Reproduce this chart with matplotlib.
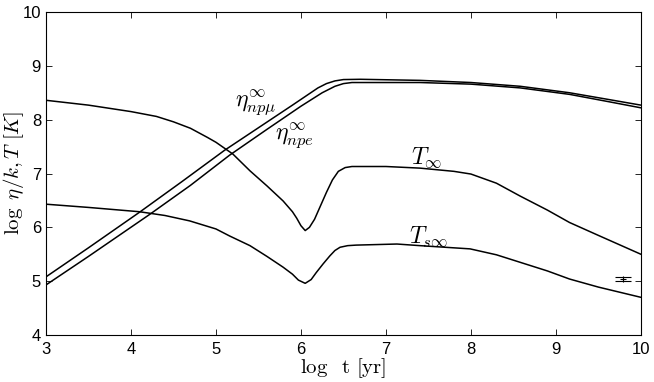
import numpy as np
import matplotlib.pyplot as plt

plt.rcParams['mathtext.fontset'] = 'cm'
plt.rcParams['font.family'] = ['Liberation Sans', 'DejaVu Sans']

# eta_npmu (upper of the pair)
t_mu = [3.0, 3.5, 4.1, 4.6, 5.1, 5.5, 5.9, 6.2, 6.3, 6.4, 6.5, 6.7, 7.4, 8.0, 8.58, 9.16, 9.6, 10.0]
eta_mu = [5.08, 5.62, 6.28, 6.85, 7.43, 7.85, 8.27, 8.59, 8.67, 8.72, 8.745, 8.75, 8.73, 8.69, 8.62, 8.50, 8.38, 8.27]

# eta_npe (lower of the pair)
t_e = [3.0, 3.5, 4.22, 4.7, 5.16, 5.6, 6.0, 6.25, 6.4, 6.5, 6.6, 7.4, 8.0, 8.58, 9.16, 9.6, 10.0]
eta_e = [4.93, 5.46, 6.24, 6.78, 7.34, 7.82, 8.25, 8.50, 8.62, 8.67, 8.69, 8.69, 8.66, 8.59, 8.47, 8.34, 8.22]

# T_inf
t_T = [3.0, 3.5, 4.0, 4.3, 4.5, 4.7, 4.9, 5.0, 5.2, 5.4, 5.6, 5.79, 5.9, 5.95, 6.0, 6.05,
       6.1, 6.16, 6.23, 6.3, 6.37, 6.44, 6.52, 6.6, 7.0, 7.4, 7.8, 8.0, 8.3, 8.58, 8.9,
       9.16, 9.5, 10.0]
T_inf = [8.36, 8.27, 8.15, 8.06, 7.96, 7.84, 7.67, 7.58, 7.36, 7.05, 6.77, 6.49, 6.29, 6.17,
         6.03, 5.94, 6.00, 6.15, 6.40, 6.65, 6.88, 7.04, 7.11, 7.13, 7.13, 7.10, 7.04, 6.99,
         6.82, 6.58, 6.32, 6.09, 5.85, 5.50]

# T_s_inf
t_Ts = [3.0, 3.5, 4.1, 4.4, 4.69, 5.0, 5.16, 5.28, 5.4, 5.6, 5.79, 5.9, 5.97, 6.05, 6.12,
        6.18, 6.26, 6.34, 6.4, 6.46, 6.55, 6.65, 7.13, 7.4, 7.99, 8.3, 8.58, 8.9, 9.16,
        9.5, 10.0]
Ts_inf = [6.43, 6.37, 6.29, 6.22, 6.12, 5.97, 5.84, 5.75, 5.66, 5.46, 5.26, 5.13, 5.02, 4.96,
          5.03, 5.16, 5.32, 5.47, 5.57, 5.63, 5.66, 5.67, 5.69, 5.66, 5.60, 5.49, 5.35, 5.19,
          5.04, 4.89, 4.70]

# observational point with error bar
obs_t, obs_T, obs_err = 9.79, 5.035, 0.04

fig = plt.figure(figsize=(6.54, 3.82), dpi=100)
ax = fig.add_axes([0.0703, 0.123, 0.9097, 0.8456])

for x, y in [(t_mu, eta_mu), (t_e, eta_e), (t_T, T_inf), (t_Ts, Ts_inf)]:
    ax.plot(x, y, color='k', lw=1.1)

ax.errorbar(obs_t, obs_T, yerr=obs_err, fmt='+', color='k', ms=5, mew=0.8,
            elinewidth=0.8, capsize=6, capthick=0.8)

ax.text(5.22, 8.28, r'$\eta^{\infty}_{np\mu}$', fontsize=17, va='center', ha='left')
ax.text(5.70, 7.67, r'$\eta^{\infty}_{npe}$', fontsize=17, va='center', ha='left')
ax.text(7.30, 7.30, r'$T_{\infty}$', fontsize=17, va='center', ha='left')
ax.text(7.27, 5.82, r'$T_{s\infty}$', fontsize=17, va='center', ha='left')

ax.set_xlim(3, 10)
ax.set_ylim(4, 10)
ax.set_xticks(range(3, 11))
ax.set_yticks(range(4, 11))
ax.tick_params(direction='in', top=True, right=True, length=4, width=0.6, labelsize=12)
ax.tick_params(axis='x', pad=5)
for s in ax.spines.values():
    s.set_linewidth(0.8)

ax.set_xlabel(r'$\log\ \ \mathrm{t}\ [\mathrm{yr}]$', fontsize=15)
ax.set_ylabel(r'$\log\ \eta/k, T\ [K]$', fontsize=15)
ax.xaxis.set_label_coords(0.5, -0.065)
ax.yaxis.set_label_coords(-0.034, 0.5)

fig.savefig('out.png', dpi=100)
